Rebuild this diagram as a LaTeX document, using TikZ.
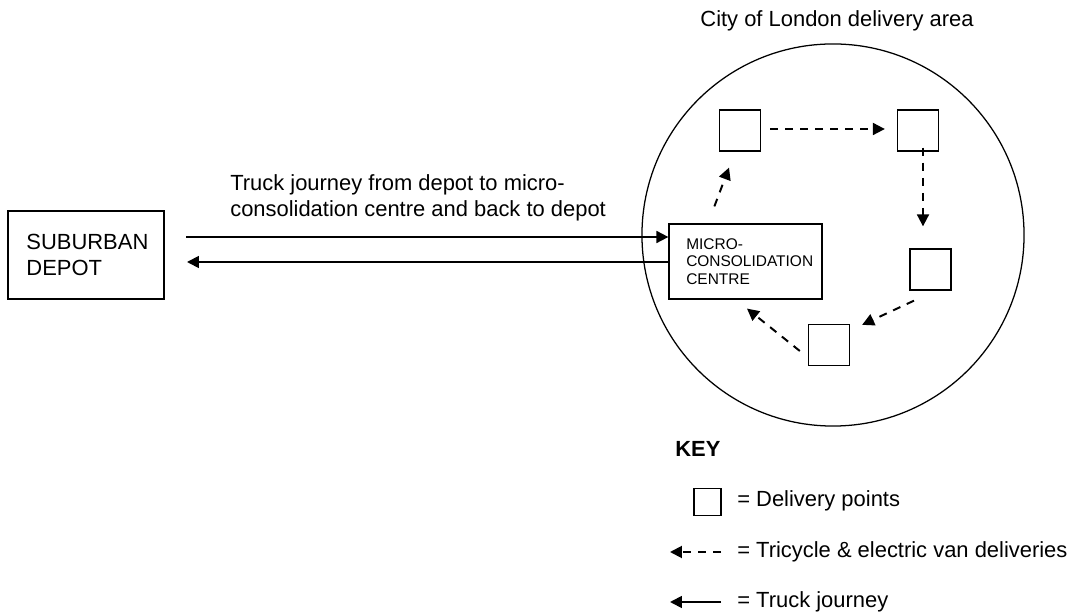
\documentclass[tikz,border=0pt]{standalone}
\usepackage{fontspec}
\setmainfont{Liberation Sans}
\usetikzlibrary{arrows.meta,calc}

\begin{document}
\begin{tikzpicture}[x=0.025cm,y=-0.025cm,
		txt/.style={inner sep=0pt,anchor=base west,align=left,font=\fontsize{15.6}{18.5}\selectfont},
		box/.style={draw,line width=0.9pt,inner sep=0pt},
		dp/.style={box,minimum size=29.2pt},
		truck/.style={line width=1.3pt,-{Triangle[length=8.5pt,width=8.5pt]}},
		tri/.style={line width=1.4pt,dash pattern=on 5.7pt off 5pt,-{Triangle[length=8.5pt,width=8.5pt]}}]

		\useasboundingbox (0,0) rectangle (1080,615);

		% depot and micro-consolidation centre
		\node[box,minimum width=111pt,minimum height=62.6pt,align=left,font=\fontsize{15.6}{18.5}\selectfont] (depot) at (86,255) {\hspace*{2pt}SUBURBAN\\\hspace*{2pt}DEPOT};
		\node[box,minimum width=108.8pt,minimum height=53.3pt,align=left,font=\fontsize{11}{12.5}\selectfont] (mcc) at (745.5,261.5) {\hspace*{6pt}MICRO-\\\hspace*{6pt}CONSOLIDATION\\\hspace*{6pt}CENTRE};

		% delivery area
		\node[draw,circle,line width=0.9pt,minimum size=9.55cm,inner sep=0pt] (area) at (833,235) {};
		\node[txt,anchor=base] (areatitle) at (837,27) {City of London delivery area};

		\node[dp] (d1) at (740,130.5) {};
		\node[dp] (d2) at (918,130.5) {};
		\node[dp] (d3) at (930.5,269.5) {};
		\node[dp] (d4) at (829,345) {};

		% truck journey
		\coordinate (t1) at (186,237);
		\coordinate (t2) at (187,262);
		\draw[truck] (t1) -- (t1 -| mcc.west);
		\draw[truck] (t2 -| mcc.west) -- (t2);
		\node[txt] (trucktxt) at (230,216.5) {Truck journey from depot to micro-\\consolidation centre and back to depot};

		% deliveries
		\draw[tri] ($(mcc.north west)+(46,-17)$) -- ($(d1.south)+(-11,16)$);
		\draw[tri] ($(d1.east)+(9,-1.5)$) -- ($(d2.west)+(-12,-1.5)$);
		\draw[tri] ($(d2.south)+(5,-4)$) -- ($(d3.north)+(-7.5,-22)$);
		\draw[tri] ($(d3.south)+(-16.5,10)$) -- ($(d4.north east)+(12,1)$);
		\draw[tri] ($(d4.west)+(-8,6)$) -- ($(mcc.south)+(1.5,9)$);

		% key
		\node[txt,font=\fontsize{15.6}{18.5}\selectfont\bfseries] (key) at (675,457) {KEY};
		\node[box,minimum size=19.2pt] (kdp) at (707.5,502) {};
		\node[txt] (kdptxt) at (737,507) {= Delivery points};
		\coordinate (kt1) at (721,552);
		\coordinate (kt2) at (670,552);
		\draw[tri] (kt1) -- (kt2);
		\node[txt] (ktritxt) at (737,558) {= Tricycle \& electric van deliveries};
		\coordinate (kk1) at (721,602);
		\coordinate (kk2) at (670,602);
		\draw[truck] (kk1) -- (kk2);
		\node[txt] (ktrucktxt) at (737,608) {= Truck journey};

	\end{tikzpicture}
\end{document}
